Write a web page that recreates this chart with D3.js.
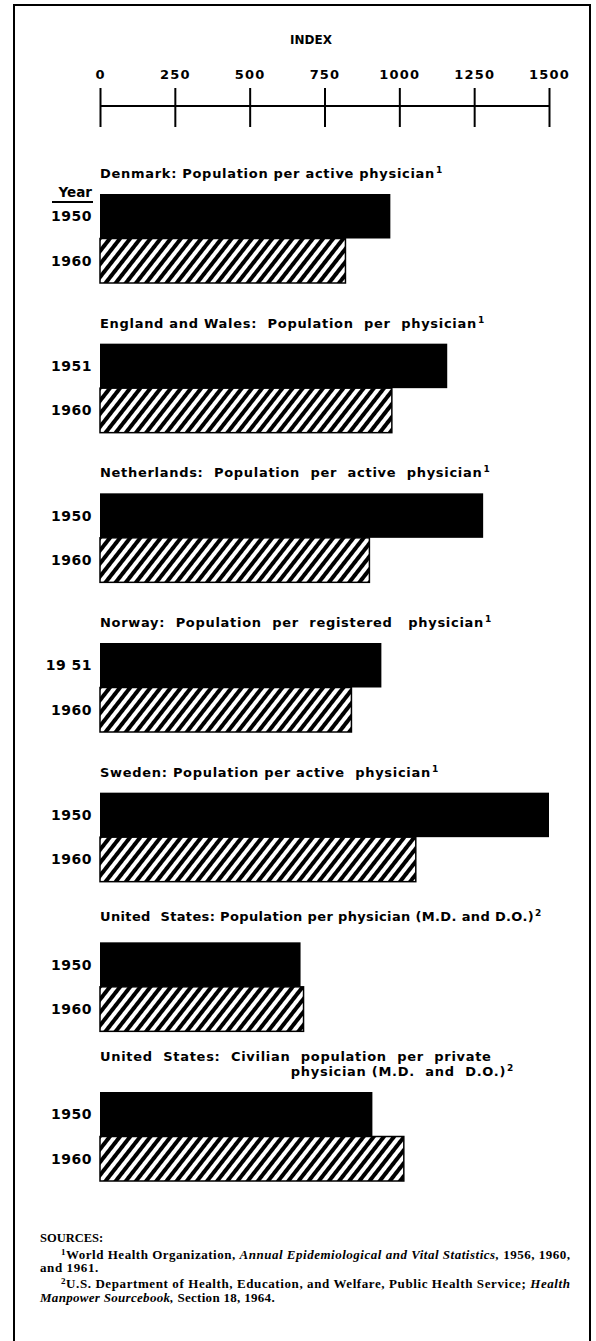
<!DOCTYPE html>
<html>
<head>
<meta charset="utf-8">
<script src="https://cdn.jsdelivr.net/npm/d3@7"></script>
<style>
  html, body { margin: 0; padding: 0; background: #fff; }
  svg { display: block; }
  .lbl { font-family: "DejaVu Sans", sans-serif; font-weight: bold; fill: #000; }
  .src { font-family: "Liberation Serif", "DejaVu Serif", serif; font-weight: bold; fill: #000; }
</style>
</head>
<body>
<div id="chart"></div>
<script>
// values
const titles = [
  ['Denmark: Population per active physician'],
  ['England and Wales:  Population  per  physician'],
  ['Netherlands:  Population  per  active  physician'],
  ['Norway:  Population  per  registered   physician'],
  ['Sweden: Population per active  physician'],
  ['United  States: Population per physician (M.D. and D.O.)'],
  ['United  States:  Civilian  population  per  private', 'physician (M.D.  and  D.O.)']
];
const footnotes = ['1', '1', '1', '1', '1', '2', '2'];
const firstYears = ['1950', '1951', '1950', '19 51', '1950', '1950', '1950'];
const secondYears = ['1960', '1960', '1960', '1960', '1960', '1960', '1960'];
const firstValues = [970, 1160, 1280, 940, 1500, 670, 910];
const secondValues = [820, 975, 900, 840, 1055, 680, 1015];
const tickValues = [0, 250, 500, 750, 1000, 1250, 1500];

const width = 596, height = 1341;

const svg = d3.select('#chart').append('svg')
  .attr('width', width)
  .attr('height', height);

const defs = svg.append('defs');
const pat = defs.append('pattern')
  .attr('id', 'hatch')
  .attr('patternUnits', 'userSpaceOnUse')
  .attr('width', 8).attr('height', 8)
  .attr('patternTransform', 'rotate(38)');
pat.append('rect').attr('width', 8).attr('height', 8).attr('fill', '#fff');
pat.append('rect').attr('width', 4).attr('height', 8).attr('fill', '#000');

// frame
svg.append('rect')
  .attr('x', 14).attr('y', 5)
  .attr('width', 576).attr('height', 1350)
  .attr('fill', 'none').attr('stroke', '#000').attr('stroke-width', 2);

const x = d3.scaleLinear().domain([0, 1500]).range([100, 549]);
const panelY = d3.scaleLinear().domain([0, 6]).range([194, 1092]);
const barY = d3.scaleBand().domain([0, 1]).range([0, 89]);

// axis on top
svg.append('text').attr('class', 'lbl')
  .attr('x', 311).attr('y', 44)
  .attr('text-anchor', 'middle')
  .attr('font-size', 12)
  .text('INDEX');

const axis = svg.append('g')
  .attr('transform', 'translate(0,106)')
  .call(d3.axisTop(x).tickValues(tickValues).tickSize(18).tickPadding(9).tickFormat(d3.format('d')));
axis.select('.domain').attr('d', `M${x(0)},0H${x(1500)}`).attr('stroke-width', 2);
axis.selectAll('.tick line').attr('y1', 21).attr('stroke-width', 2);
axis.selectAll('.tick text')
  .attr('class', 'lbl')
  .attr('font-size', 13)
  .attr('letter-spacing', 1.2);

// panels
const panels = svg.selectAll('.panel')
  .data(titles.map((t, i) => ({
    lines: t, note: footnotes[i],
    years: [firstYears[i], secondYears[i]],
    values: [firstValues[i], secondValues[i]]
  })))
  .join('g')
  .attr('class', 'panel')
  .attr('transform', (d, i) => `translate(0,${panelY(i)})`);

panels.each(function(d, i) {
  const g = d3.select(this);
  const n = d.lines.length;
  const lift = i === 5 ? 5 : 0;
  d.lines.forEach((line, j) => {
    const last = j === n - 1;
    const t = g.append('text').attr('class', 'lbl')
      .attr('font-size', 13)
      .attr('letter-spacing', i === 5 ? 0.35 : 0.7)
      .style('white-space', 'pre')
      .attr('y', -16 - lift - (n - 1 - j) * 15);
    if (n > 1 && last) {
      t.attr('x', 514).attr('text-anchor', 'end');
    } else {
      t.attr('x', 100);
    }
    t.append('tspan').text(line);
    if (last) {
      t.append('tspan').attr('font-size', 9).attr('dy', -5).attr('dx', 1).text(d.note);
    }
  });

  g.selectAll('rect.bar')
    .data(d.values)
    .join('rect')
    .attr('class', 'bar')
    .attr('x', x(0))
    .attr('y', (v, k) => barY(k))
    .attr('width', v => x(v) - x(0))
    .attr('height', barY.bandwidth())
    .attr('fill', (v, k) => k === 0 ? '#000' : 'url(#hatch)')
    .attr('stroke', '#000')
    .attr('stroke-width', (v, k) => k === 0 ? 0 : 1.5);

  g.selectAll('text.year')
    .data(d.years)
    .join('text')
    .attr('class', 'lbl year')
    .attr('x', 92)
    .attr('y', (v, k) => barY(k) + barY.bandwidth() / 2 + 5)
    .attr('text-anchor', 'end')
    .attr('font-size', 14)
    .attr('letter-spacing', 0.5)
    .style('white-space', 'pre')
    .text(v => v);
});

// "Year" heading above the first panel's labels
svg.append('text').attr('class', 'lbl')
  .attr('x', 92).attr('y', panelY(0) + 3)
  .attr('text-anchor', 'end')
  .attr('font-size', 13.5)
  .text('Year');
svg.append('line')
  .attr('x1', 52).attr('x2', 93)
  .attr('y1', panelY(0) + 8).attr('y2', panelY(0) + 8)
  .attr('stroke', '#000').attr('stroke-width', 2);

// sources
const src = svg.append('g').attr('class', 'src').attr('font-size', 13);
src.append('text').attr('x', 40).attr('y', 1242).attr('font-size', 12.5).text('SOURCES:');

const l1 = src.append('text').attr('x', 61).attr('y', 1259)
  .attr('textLength', 509).attr('lengthAdjust', 'spacing');
l1.append('tspan').attr('font-size', 9).attr('dy', -4).text('1');
l1.append('tspan').attr('dy', 4).text('World Health Organization, ');
l1.append('tspan').attr('font-style', 'italic').text('Annual Epidemiological and Vital Statistics,');
l1.append('tspan').text(' 1956, 1960,');
src.append('text').attr('x', 40).attr('y', 1272).attr('letter-spacing', 0.6).text('and 1961.');

const l3 = src.append('text').attr('x', 61).attr('y', 1288)
  .attr('textLength', 509).attr('lengthAdjust', 'spacing');
l3.append('tspan').attr('font-size', 9).attr('dy', -4).text('2');
l3.append('tspan').attr('dy', 4).text('U.S. Department of Health, Education, and Welfare, Public Health Service; ');
l3.append('tspan').attr('font-style', 'italic').text('Health');
const l4 = src.append('text').attr('x', 40).attr('y', 1302).attr('letter-spacing', 0.3);
l4.append('tspan').attr('font-style', 'italic').text('Manpower Sourcebook,');
l4.append('tspan').text(' Section 18, 1964.');
</script>
</body>
</html>
